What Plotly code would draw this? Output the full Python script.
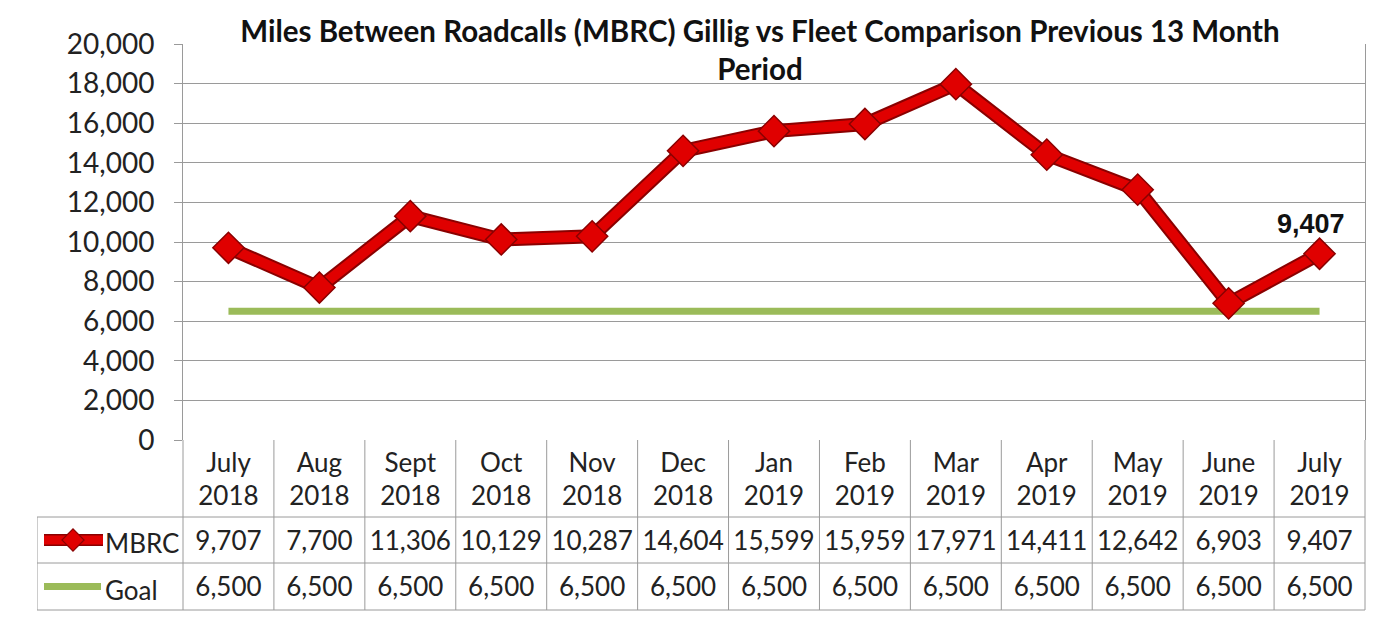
import plotly.graph_objects as go

# ---------------- data ----------------
months = ["July<br>2018", "Aug<br>2018", "Sept<br>2018", "Oct<br>2018", "Nov<br>2018",
          "Dec<br>2018", "Jan<br>2019", "Feb<br>2019", "Mar<br>2019", "Apr<br>2019",
          "May<br>2019", "June<br>2019", "July<br>2019"]
mbrc = [9707, 7700, 11306, 10129, 10287, 14604, 15599, 15959, 17971, 14411, 12642, 6903, 9407]
goal = [6500] * 13
y_ticks = list(range(0, 20001, 2000))
title_text = ("Miles Between Roadcalls (MBRC) Gillig vs Fleet Comparison Previous 13 Month"
              "<br>Period")

# ---------------- layout geometry (screen pixels) ----------------
SCR_W, SCR_H = 1375, 635
OFF = 8                    # default page body margin
W, H = SCR_W - OFF, SCR_H - OFF
PL, PR = 37, 1367          # plot area incl. legend column
PT, PB = 44, 612
AX_L, AX_R = 183, 1365     # chart/table category area
Y0_PX = 440                # y=0 line
n = len(months)
CW = (AX_R - AX_L) / n

def x2(px):
    return (px - AX_L) / CW - 0.5

def px_paper_x(px):
    return (px - PL) / (PR - PL)

def px_paper_y(py):
    return (PB - py) / (PB - PT)

FONT = "Lato"
RED = "#e00000"
DARK_RED = "#8a0000"
GREEN = "#9bbb59"
GRID = "#9a9a9a"
TXT = "#222222"

ROW_HDR, ROW_MBRC, ROW_GOAL = 128, 67, 20.5

idx = list(range(n))
fig = go.Figure()

# ---------- main chart ----------
fig.add_trace(go.Scatter(x=idx, y=goal, mode="lines", xaxis="x", yaxis="y",
                         line=dict(color=GREEN, width=7), hoverinfo="skip", showlegend=False))
fig.add_trace(go.Scatter(x=idx, y=mbrc, mode="lines", xaxis="x", yaxis="y",
                         line=dict(color=DARK_RED, width=14), hoverinfo="skip", showlegend=False))
fig.add_trace(go.Scatter(x=idx, y=mbrc, mode="lines+markers", xaxis="x", yaxis="y",
                         line=dict(color=RED, width=10),
                         marker=dict(symbol="diamond", size=24, color=RED,
                                     line=dict(color=DARK_RED, width=1.5)),
                         showlegend=False, name="MBRC"))

# ---------- data table ----------
fig.add_trace(go.Scatter(x=idx, y=[ROW_HDR] * n, mode="text", text=months, xaxis="x2", yaxis="y2",
                         textfont=dict(family=FONT, size=26, color=TXT),
                         hoverinfo="skip", showlegend=False))
fig.add_trace(go.Scatter(x=idx, y=[ROW_MBRC] * n, mode="text", text=[f"{v:,}" for v in mbrc],
                         xaxis="x2", yaxis="y2",
                         textfont=dict(family=FONT, size=26, color=TXT),
                         hoverinfo="skip", showlegend=False))
fig.add_trace(go.Scatter(x=idx, y=[ROW_GOAL] * n, mode="text", text=[f"{v:,}" for v in goal],
                         xaxis="x2", yaxis="y2",
                         textfont=dict(family=FONT, size=26, color=TXT),
                         hoverinfo="skip", showlegend=False))

# legend keys in table
fig.add_trace(go.Scatter(x=[x2(44), x2(103)], y=[70, 70], mode="lines", xaxis="x2", yaxis="y2",
                         line=dict(color=DARK_RED, width=12), hoverinfo="skip", showlegend=False))
fig.add_trace(go.Scatter(x=[x2(44), x2(103)], y=[70, 70], mode="lines", xaxis="x2", yaxis="y2",
                         line=dict(color=RED, width=9), hoverinfo="skip", showlegend=False))
fig.add_trace(go.Scatter(x=[x2(73)], y=[70], mode="markers", xaxis="x2", yaxis="y2",
                         marker=dict(symbol="diamond", size=17, color=RED,
                                     line=dict(color=DARK_RED, width=1.2)),
                         hoverinfo="skip", showlegend=False))
fig.add_trace(go.Scatter(x=[x2(44), x2(101)], y=[23.5, 23.5], mode="lines", xaxis="x2", yaxis="y2",
                         line=dict(color=GREEN, width=7), hoverinfo="skip", showlegend=False))

annotations = [
    dict(x=x2(103), y=ROW_MBRC, xref="x2", yref="y2", text="MBRC", showarrow=False,
         xanchor="left", yanchor="middle", font=dict(family=FONT, size=26, color=TXT)),
    dict(x=x2(103), y=ROW_GOAL, xref="x2", yref="y2", text="Goal", showarrow=False,
         xanchor="left", yanchor="middle", font=dict(family=FONT, size=26, color=TXT)),
    dict(x=idx[-1], y=mbrc[-1], xref="x", yref="y", text=f"<b>{mbrc[-1]:,}</b>", showarrow=False,
         xanchor="center", yanchor="bottom", xshift=-9, yshift=13,
         font=dict(family="Liberation Sans", size=27, color="#111111")),
]

shapes = []
# table vertical lines
for k in range(n + 1):
    shapes.append(dict(type="line", xref="x2", yref="y2", x0=k - 0.5, x1=k - 0.5, y0=0, y1=170,
                       line=dict(color=GRID, width=1)))
shapes.append(dict(type="line", xref="x2", yref="y2", x0=x2(37), x1=x2(37), y0=0, y1=93,
                   line=dict(color=GRID, width=1)))
# table horizontal lines
for yy in (93, 47, 0):
    shapes.append(dict(type="line", xref="x2", yref="y2", x0=x2(37), x1=12.5, y0=yy, y1=yy,
                       line=dict(color=GRID, width=1)))

dom_main_x = [px_paper_x(AX_L), px_paper_x(AX_R)]
split = px_paper_y(Y0_PX)

fig.update_layout(
    width=W, height=H,
    margin=dict(l=PL - OFF, r=SCR_W - PR, t=PT - OFF, b=SCR_H - PB, pad=0),
    paper_bgcolor="white", plot_bgcolor="white",
    title=dict(text=f"<b>{title_text}</b>", xref="container", yref="container",
               x=(760 - OFF) / W, y=1 - (42 - OFF) / H, xanchor="center", yanchor="middle",
               font=dict(family=FONT, size=29.5, color="#111111")),
    xaxis=dict(domain=dom_main_x, range=[-0.5, n - 0.5], showticklabels=False,
               showgrid=False, zeroline=False, showline=False, anchor="y", fixedrange=True),
    yaxis=dict(domain=[split, 1], range=[0, 20000], tickvals=y_ticks,
               ticktext=[f"{v:,}" for v in y_ticks], anchor="x",
               tickfont=dict(family=FONT, size=28, color=TXT),
               showgrid=True, gridcolor=GRID, gridwidth=1, zeroline=False,
               showline=True, linecolor=GRID, linewidth=1, mirror=True,
               ticks="outside", ticklen=8, tickcolor=GRID, ticklabelstandoff=14),
    xaxis2=dict(domain=[0, 1], range=[x2(PL), x2(PR)], visible=False, anchor="y2", fixedrange=True),
    yaxis2=dict(domain=[0, split], range=[-2, 170], visible=False, anchor="x2", fixedrange=True),
    shapes=shapes,
    annotations=annotations,
)

fig.write_html("out.html")
